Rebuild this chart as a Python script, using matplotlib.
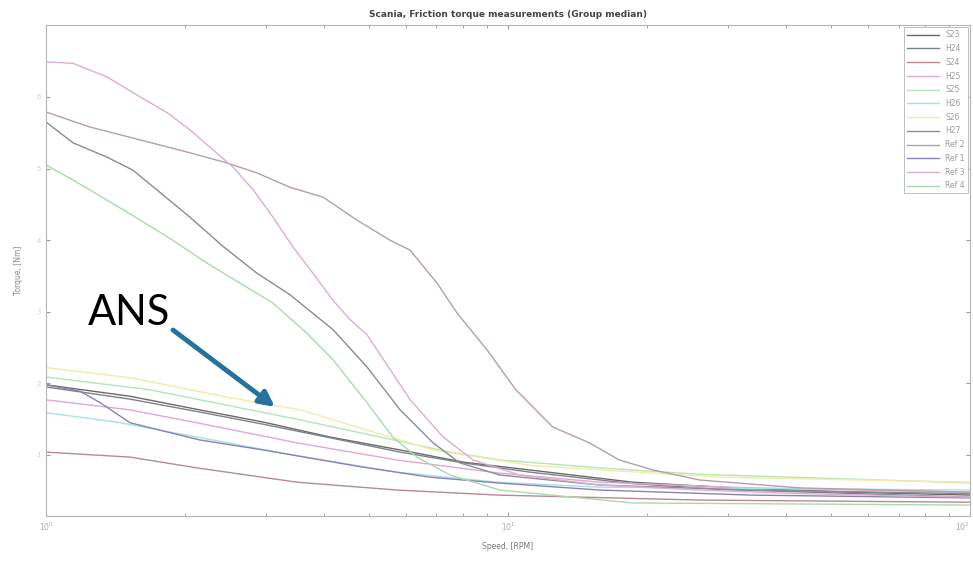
import numpy as np
import matplotlib
matplotlib.use("Agg")
import matplotlib.pyplot as plt
import matplotlib.ticker as ticker

# Speed [RPM] / torque readings per group (group median)
ref3_x = [1.0, 1.144, 1.355, 1.60, 1.83, 2.05, 2.30, 2.54, 2.81, 3.10, 3.42, 3.78, 4.18, 4.55, 4.95, 6.14, 7.24, 8.40, 10.6, 15.8, 26.0, 42.8, 100]
ref3_y = [6.49, 6.47, 6.28, 6.00, 5.78, 5.54, 5.26, 5.02, 4.70, 4.32, 3.91, 3.54, 3.16, 2.89, 2.68, 1.77, 1.25, 0.93, 0.72, 0.58, 0.51, 0.46, 0.41]

ref2_x = [1.0, 1.245, 1.60, 2.05, 2.46, 2.86, 3.37, 3.98, 4.71, 5.55, 6.14, 7.02, 7.76, 9.0, 10.4, 12.5, 15.0, 17.4, 20.6, 26.0, 42.8, 100]
ref2_y = [5.79, 5.58, 5.40, 5.22, 5.08, 4.94, 4.74, 4.60, 4.28, 4.00, 3.86, 3.40, 2.98, 2.47, 1.91, 1.39, 1.17, 0.93, 0.79, 0.65, 0.54, 0.48]

h27_x = [1.0, 1.144, 1.355, 1.54, 1.74, 2.05, 2.42, 2.86, 3.37, 4.18, 4.95, 5.84, 6.88, 7.86, 9.6, 15.8, 33.4, 100]
h27_y = [5.65, 5.36, 5.16, 4.98, 4.70, 4.32, 3.91, 3.54, 3.24, 2.75, 2.23, 1.63, 1.17, 0.89, 0.72, 0.58, 0.51, 0.46]

ref4_x = [1.0, 1.144, 1.355, 1.60, 1.88, 2.23, 2.63, 3.10, 3.67, 4.18, 4.95, 5.63, 6.35, 7.49, 9.6, 18.6, 100]
ref4_y = [5.05, 4.84, 4.56, 4.28, 4.00, 3.68, 3.40, 3.12, 2.70, 2.33, 1.73, 1.25, 0.97, 0.72, 0.51, 0.33, 0.30]

s23_x = [1.0, 1.52, 2.15, 2.95, 4.12, 5.84, 8.0, 11.16, 18.6, 28.8, 55, 100]
s23_y = [1.98, 1.82, 1.63, 1.46, 1.25, 1.07, 0.90, 0.79, 0.62, 0.55, 0.48, 0.44]

h24_x = [1.0, 1.52, 2.15, 2.95, 4.12, 5.84, 8.0, 11.16, 18.6, 28.8, 100]
h24_y = [1.95, 1.78, 1.60, 1.43, 1.24, 1.04, 0.89, 0.76, 0.60, 0.52, 0.41]

s26_x = [1.0, 1.52, 2.50, 3.55, 6.88, 11.3, 28.8, 100]
s26_y = [2.22, 2.08, 1.80, 1.63, 1.07, 0.85, 0.69, 0.62]

s25_x = [1.0, 1.68, 3.55, 7.49, 9.6, 15.8, 26.0, 100]
s25_y = [2.09, 1.91, 1.49, 1.04, 0.93, 0.82, 0.73, 0.61]

ref1_x = [1.0, 1.185, 1.31, 1.52, 2.15, 2.95, 4.85, 6.77, 9.47, 15.8, 33.4, 100]
ref1_y = [1.98, 1.89, 1.73, 1.45, 1.21, 1.07, 0.83, 0.69, 0.61, 0.51, 0.44, 0.40]

h25_x = [1.0, 1.52, 2.12, 3.49, 5.75, 9.47, 15.8, 33.4, 100]
h25_y = [1.77, 1.63, 1.45, 1.17, 0.93, 0.75, 0.62, 0.54, 0.48]

h26_x = [1.0, 1.42, 2.12, 3.49, 5.75, 9.47, 15.8, 100]
h26_y = [1.59, 1.46, 1.25, 0.99, 0.76, 0.62, 0.55, 0.51]

s24_x = [1.0, 1.52, 2.12, 3.49, 5.75, 9.47, 26.0, 100]
s24_y = [1.04, 0.97, 0.82, 0.62, 0.51, 0.44, 0.37, 0.34]

# legend order as in the original figure
series = [
    ("S23", s23_x, s23_y, "#6a6a6a"),
    ("H24", h24_x, h24_y, "#7c818c"),
    ("S24", s24_x, s24_y, "#b58a92"),
    ("H25", h25_x, h25_y, "#e2a6d4"),
    ("S25", s25_x, s25_y, "#b9e2b9"),
    ("H26", h26_x, h26_y, "#a9dfe8"),
    ("S26", s26_x, s26_y, "#efeda6"),
    ("H27", h27_x, h27_y, "#8e8a94"),
    ("Ref 2", ref2_x, ref2_y, "#b49eac"),
    ("Ref 1", ref1_x, ref1_y, "#8a82b0"),
    ("Ref 3", ref3_x, ref3_y, "#d9afd2"),
    ("Ref 4", ref4_x, ref4_y, "#acd9ac"),
]

x_ticks = [1, 10, 100]
x_tick_labels = [r"$10^{0}$", r"$10^{1}$", r"$10^{2}$"]
y_ticks = [1, 2, 3, 4, 5, 6]

fig = plt.figure(figsize=(9.73, 5.62), dpi=100)
ax = fig.add_axes([0.0473, 0.0819, 0.9497, 0.8737])

for name, xs, ys, col in series:
    ax.plot(xs, ys, color=col, lw=1.0, label=name)

ax.set_xscale("log")
ax.set_xlim(1, 100)
ax.set_ylim(0.148, 7.006)
ax.set_xticks(x_ticks, labels=x_tick_labels)
ax.set_yticks(y_ticks)
ax.set_yticklabels([str(t) for t in y_ticks], color="#d0d0d0", fontsize=5)
ax.tick_params(axis="x", which="major", labelsize=5.5, labelcolor="#a8a8a8")
ax.tick_params(which="both", direction="in", top=True, right=True,
               color="#999999", length=3)
ax.tick_params(which="minor", length=2)
for sp in ax.spines.values():
    sp.set_color("#b5b5b5")
    sp.set_linewidth(0.8)

# last decade label sits at the figure edge
ax.xaxis.get_major_ticks()[-1].label1.set_horizontalalignment("right")

ax.set_title("Scania, Friction torque measurements (Group median)",
             fontsize=6.5, fontweight="bold", color="#444444", pad=6)
ax.set_xlabel("Speed, [RPM]", fontsize=5.5, color="#777777", labelpad=6)
ax.set_ylabel("Torque, [Nm]", fontsize=5.5, color="#888888", labelpad=10)

leg = ax.legend(loc="upper right", fontsize=5.5, labelspacing=0.62,
                handlelength=4.2, borderaxespad=0.3, fancybox=False,
                framealpha=1)
leg.get_frame().set_edgecolor("#c0c0c0")
leg.get_frame().set_linewidth(0.7)
for t in leg.get_texts():
    t.set_color("#9a9a9a")

fig.text(0.0904, 0.4217, "ANS", fontsize=30, family="Lato", va="baseline",
         color="black")
ax.annotate("", xy=(0.2826, 0.2758), xycoords="figure fraction",
            xytext=(0.1778, 0.4128), textcoords="figure fraction",
            arrowprops=dict(arrowstyle="-|>,head_width=0.45,head_length=0.9",
                            color="#25729c", lw=3.5, shrinkA=0, shrinkB=0))

fig.savefig("out.png", dpi=100)
